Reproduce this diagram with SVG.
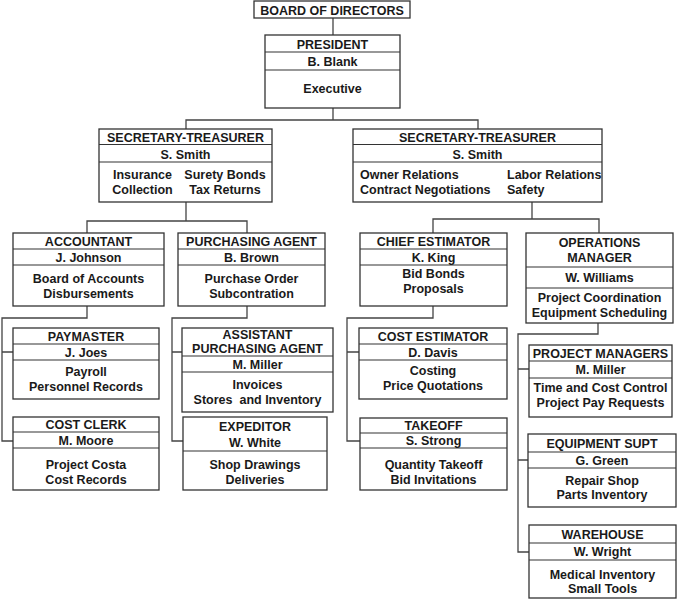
<svg xmlns="http://www.w3.org/2000/svg" width="677" height="600" viewBox="0 0 677 600">
<style>
.bg{fill:#fff}
.box{fill:#fff;stroke:#333;stroke-width:1.3}
.dv{stroke:#333;stroke-width:1.2}
.cn{fill:none;stroke:#444;stroke-width:1.3}
text{font-family:"Liberation Sans",Arial,Helvetica,sans-serif;font-weight:bold;font-size:12.5px;fill:#1a1a1a;text-anchor:middle}
text.l{text-anchor:start}
</style>
<rect class="bg" x="0" y="0" width="677" height="600"/>
<g id="connectors">
<path class="cn" d="M333 18V35"/>
<path class="cn" d="M333 108V120M186 129V120H478V129"/>
<path class="cn" d="M186 202V221M87 233V221H247V233"/>
<path class="cn" d="M532 202V219M433 233V219H599V233"/>
<path class="cn" d="M87 306V318H2V441H13M2 352H13"/>
<path class="cn" d="M247 306V318H172V441H183M172 352H182"/>
<path class="cn" d="M433 306V318H347V441H360M347 352H359"/>
<path class="cn" d="M598 323V334H518V552H529M518 369H529M518 460H528"/>
</g>
<g id="board">
<rect class="box" x="254" y="1" width="156" height="17"/>
<text x="332" y="14.5">BOARD OF DIRECTORS</text>
</g>
<g id="president">
<rect class="box" x="265" y="35" width="135" height="73"/>
<line class="dv" x1="265" y1="52" x2="400" y2="52"/>
<line class="dv" x1="265" y1="70" x2="400" y2="70"/>
<text x="332.5" y="48.5">PRESIDENT</text>
<text x="332.5" y="65.5">B. Blank</text>
<text x="332.5" y="92.5">Executive</text>
</g>
<g id="sectreas-left">
<rect class="box" x="99" y="129" width="173" height="73"/>
<line class="dv" x1="99" y1="144.5" x2="272" y2="144.5"/>
<line class="dv" x1="99" y1="162" x2="272" y2="162"/>
<text x="185.5" y="141.5">SECRETARY-TREASURER</text>
<text x="185.5" y="158.5">S. Smith</text>
<text x="142.5" y="178.5">Insurance</text>
<text x="142.5" y="193.5">Collection</text>
<text x="225" y="178.5">Surety Bonds</text>
<text x="225" y="193.5">Tax Returns</text>
</g>
<g id="sectreas-right">
<rect class="box" x="353" y="129" width="249" height="73"/>
<line class="dv" x1="353" y1="144.5" x2="602" y2="144.5"/>
<line class="dv" x1="353" y1="162" x2="602" y2="162"/>
<text x="477.5" y="141.5">SECRETARY-TREASURER</text>
<text x="477.5" y="158.5">S. Smith</text>
<text class="l" x="360" y="178.5">Owner Relations</text>
<text class="l" x="360" y="193.5">Contract Negotiations</text>
<text class="l" x="507" y="178.5">Labor Relations</text>
<text class="l" x="507" y="193.5">Safety</text>
</g>
<g id="accountant">
<rect class="box" x="13" y="233" width="151" height="73"/>
<line class="dv" x1="13" y1="249" x2="164" y2="249"/>
<line class="dv" x1="13" y1="265" x2="164" y2="265"/>
<text x="88.5" y="245.5">ACCOUNTANT</text>
<text x="88.5" y="261.5">J. Johnson</text>
<text x="88.5" y="282.5">Board of Accounts</text>
<text x="88.5" y="297.5">Disbursements</text>
</g>
<g id="purchasing-agent">
<rect class="box" x="178" y="233" width="147" height="73"/>
<line class="dv" x1="178" y1="249" x2="325" y2="249"/>
<line class="dv" x1="178" y1="265" x2="325" y2="265"/>
<text x="251.5" y="245.5">PURCHASING AGENT</text>
<text x="251.5" y="261.5">B. Brown</text>
<text x="251.5" y="282.5">Purchase Order</text>
<text x="251.5" y="297.5">Subcontration</text>
</g>
<g id="chief-estimator">
<rect class="box" x="360" y="233" width="147" height="73"/>
<line class="dv" x1="360" y1="249" x2="507" y2="249"/>
<line class="dv" x1="360" y1="265" x2="507" y2="265"/>
<text x="433.5" y="245.5">CHIEF ESTIMATOR</text>
<text x="433.5" y="261.5">K. King</text>
<text x="433.5" y="277.5">Bid Bonds</text>
<text x="433.5" y="292.5">Proposals</text>
</g>
<g id="operations-manager">
<rect class="box" x="526" y="233" width="147" height="90"/>
<line class="dv" x1="526" y1="267" x2="673" y2="267"/>
<line class="dv" x1="526" y1="288" x2="673" y2="288"/>
<text x="599.5" y="246.5">OPERATIONS</text>
<text x="599.5" y="262">MANAGER</text>
<text x="599.5" y="282">W. Williams</text>
<text x="599.5" y="302">Project Coordination</text>
<text x="599.5" y="316.5">Equipment Scheduling</text>
</g>
<g id="paymaster">
<rect class="box" x="13" y="328" width="146" height="71"/>
<line class="dv" x1="13" y1="344" x2="159" y2="344"/>
<line class="dv" x1="13" y1="360" x2="159" y2="360"/>
<text x="86" y="340.5">PAYMASTER</text>
<text x="86" y="356.5">J. Joes</text>
<text x="86" y="375.5">Payroll</text>
<text x="86" y="390.5">Personnel Records</text>
</g>
<g id="cost-clerk">
<rect class="box" x="13" y="417" width="146" height="73"/>
<line class="dv" x1="13" y1="432" x2="159" y2="432"/>
<line class="dv" x1="13" y1="448" x2="159" y2="448"/>
<text x="86" y="429">COST CLERK</text>
<text x="86" y="445">M. Moore</text>
<text x="86" y="468.5">Project Costa</text>
<text x="86" y="483.5">Cost Records</text>
</g>
<g id="assistant-purchasing-agent">
<rect class="box" x="182" y="328" width="151" height="84"/>
<line class="dv" x1="182" y1="356" x2="333" y2="356"/>
<line class="dv" x1="182" y1="372" x2="333" y2="372"/>
<text x="257.5" y="339">ASSISTANT</text>
<text x="257.5" y="353">PURCHASING AGENT</text>
<text x="257.5" y="368.5">M. Miller</text>
<text x="257.5" y="388.5">Invoices</text>
<text x="257.5" y="403.5" xml:space="preserve">Stores  and Inventory</text>
</g>
<g id="expeditor">
<rect class="box" x="183" y="417" width="144" height="73"/>
<line class="dv" x1="183" y1="451" x2="327" y2="451"/>
<text x="255" y="430.5">EXPEDITOR</text>
<text x="255" y="446.5">W. White</text>
<text x="255" y="468.5">Shop Drawings</text>
<text x="255" y="483.5">Deliveries</text>
</g>
<g id="cost-estimator">
<rect class="box" x="359" y="328" width="148" height="71"/>
<line class="dv" x1="359" y1="344" x2="507" y2="344"/>
<line class="dv" x1="359" y1="360" x2="507" y2="360"/>
<text x="433" y="340.5">COST ESTIMATOR</text>
<text x="433" y="356.5">D. Davis</text>
<text x="433" y="374.5">Costing</text>
<text x="433" y="389.5">Price Quotations</text>
</g>
<g id="takeoff">
<rect class="box" x="360" y="418" width="147" height="72"/>
<line class="dv" x1="360" y1="433" x2="507" y2="433"/>
<line class="dv" x1="360" y1="448" x2="507" y2="448"/>
<text x="433.5" y="430">TAKEOFF</text>
<text x="433.5" y="445">S. Strong</text>
<text x="433.5" y="468.5">Quantity Takeoff</text>
<text x="433.5" y="483.5">Bid Invitations</text>
</g>
<g id="project-managers">
<rect class="box" x="529" y="345" width="143" height="72"/>
<line class="dv" x1="529" y1="361" x2="672" y2="361"/>
<line class="dv" x1="529" y1="378" x2="672" y2="378"/>
<text x="600.5" y="357.5">PROJECT MANAGERS</text>
<text x="600.5" y="374">M. Miller</text>
<text x="600.5" y="391.5">Time and Cost Control</text>
<text x="600.5" y="407">Project Pay Requests</text>
</g>
<g id="equipment-supt">
<rect class="box" x="528" y="434" width="148" height="73"/>
<line class="dv" x1="528" y1="452" x2="676" y2="452"/>
<line class="dv" x1="528" y1="468" x2="676" y2="468"/>
<text x="602" y="447.5">EQUIPMENT SUPT</text>
<text x="602" y="464.5">G. Green</text>
<text x="602" y="484.5">Repair Shop</text>
<text x="602" y="498.5">Parts Inventory</text>
</g>
<g id="warehouse">
<rect class="box" x="529" y="525" width="147" height="73"/>
<line class="dv" x1="529" y1="543" x2="676" y2="543"/>
<line class="dv" x1="529" y1="560" x2="676" y2="560"/>
<text x="602.5" y="539">WAREHOUSE</text>
<text x="602.5" y="556">W. Wright</text>
<text x="602.5" y="578.5">Medical Inventory</text>
<text x="602.5" y="593">Small Tools</text>
</g>
</svg>
